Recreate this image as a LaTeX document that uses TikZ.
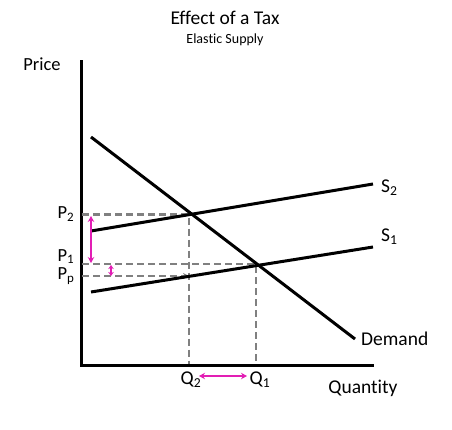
\documentclass[tikz,border=0pt]{standalone}
\usepackage{fontspec}
\setmainfont{Carlito}[RawFeature=-liga]
\usetikzlibrary{arrows.meta}
\definecolor{mag}{RGB}{226,30,180}
\definecolor{dgray}{RGB}{128,128,128}
\tikzset{
  curveline/.style={line width=3pt, line cap=butt},
  axisline/.style={line width=3pt},
  guideline/.style={dgray, line width=2.2pt, dash pattern=on 7pt off 4pt},
  shiftarrow/.style={mag, line width=2.2pt, {Stealth[length=6pt,width=6.5pt]}-{Stealth[length=6pt,width=6.5pt]}},
  lbl/.style={font=\fontsize{19.5}{21}\selectfont, inner sep=0pt},
  plbl/.style={font=\fontsize{18.5}{20}\selectfont, inner sep=0pt},
}
\begin{document}
\begin{tikzpicture}[x=1pt,y=-1pt]
\useasboundingbox (0,0) rectangle (452,429);
% title
\node[lbl, font=\fontsize{19.5}{21}\selectfont] (title) at (225,18) {Effect of a Tax};
\node[lbl, font=\fontsize{14}{16}\selectfont] (sub) at (225,40) {Elastic Supply};
% axes
\coordinate (top) at (81,60);
\coordinate (origin) at (81,365);
\coordinate (xend) at (374,365);
\draw[axisline] (top) -- (origin) -- (xend);
\node[plbl] (price) at (42,64) {Price};
\node[lbl] (qty) at (363,388) {Quantity};
% curves
\coordinate (d1) at (91,137);
\coordinate (d2) at (355,339);
\coordinate (s2a) at (91,231);
\coordinate (s2b) at (373,184);
\coordinate (s1a) at (91,292);
\coordinate (s1b) at (373,247);
% intersections
\coordinate (e2) at (189,214.5);
\coordinate (e1) at (256,264);
\coordinate (ep) at (189,276);
% guides
\coordinate (ap2) at (82,214.5);
\coordinate (ap1) at (82,264);
\coordinate (app) at (82,276);
\coordinate (bq2) at (189,364);
\coordinate (bq1) at (256,364);
\draw[guideline] (ap2) -- (e2) -- (bq2);
\draw[guideline] (ap1) -- (e1) -- (bq1);
\draw[guideline, -{Stealth[length=6pt,width=6pt]}] (app) -- (ep);
\draw[curveline] (d1) -- (d2);
\draw[curveline] (s2a) -- (s2b);
\draw[curveline] (s1a) -- (s1b);
\node[lbl, anchor=west] (demand) at (361,339) {Demand};
\node[lbl, anchor=west] (S2) at (381,188) {S\textsubscript{2}};
\node[lbl, anchor=west] (S1) at (381,237) {S\textsubscript{1}};
% price labels
\node[plbl] (P2) at (66,214) {P\textsubscript{2}};
\node[plbl, anchor=base] (P1) at (66,261) {P\textsubscript{1}};
\node[plbl, anchor=base] (Pp) at (66,279.5) {P\textsubscript{p}};
% quantity labels
\node[lbl] (Q2) at (191,380) {Q\textsubscript{2}};
\node[lbl] (Q1) at (260,380) {Q\textsubscript{1}};
% magenta arrows
\coordinate (m1a) at (91,216);
\coordinate (m1b) at (91,263);
\coordinate (m2a) at (111,265);
\coordinate (m2b) at (111,276);
\coordinate (m3a) at (199,376);
\coordinate (m3b) at (247,376);
\draw[shiftarrow] (m1a) -- (m1b);
\draw[shiftarrow, {Stealth[length=4pt,width=5.5pt]}-{Stealth[length=4pt,width=5.5pt]}] (m2a) -- (m2b);
\draw[shiftarrow] (m3a) -- (m3b);
\end{tikzpicture}
\end{document}
